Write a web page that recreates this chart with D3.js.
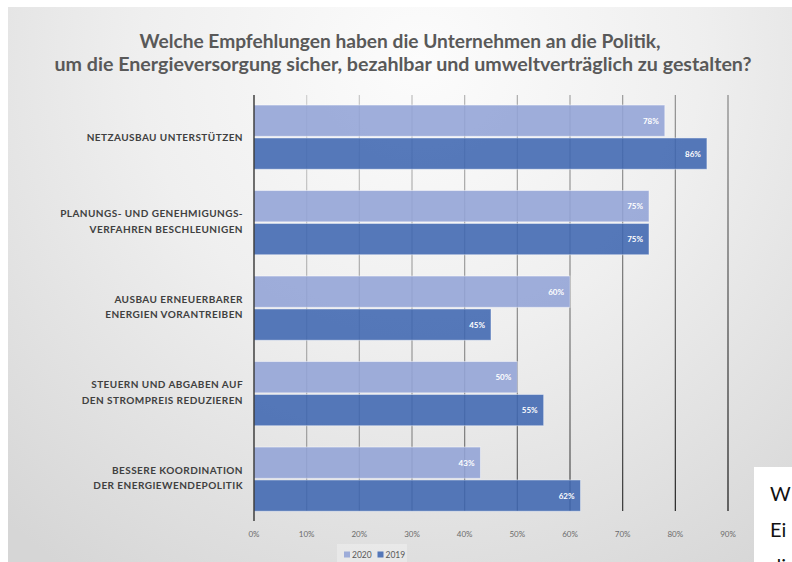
<!DOCTYPE html>
<html>
<head>
<meta charset="utf-8">
<script src="https://cdn.jsdelivr.net/npm/d3@7"></script>
<style>
  html, body { margin: 0; padding: 0; background: #fff; }
  svg { display: block; font-family: Lato, "Open Sans", sans-serif; }
</style>
</head>
<body>
<div id="chart"></div>
<script>
// Chart data
const titleLines = [
  "Welche Empfehlungen haben die Unternehmen an die Politik,",
  "um die Energieversorgung sicher, bezahlbar und umweltverträglich zu gestalten?"
];
const titleWidths = [521, 697];
const categories = [
  ["NETZAUSBAU UNTERSTÜTZEN"],
  ["PLANUNGS- UND GENEHMIGUNGS-", "VERFAHREN BESCHLEUNIGEN"],
  ["AUSBAU ERNEUERBARER", "ENERGIEN VORANTREIBEN"],
  ["STEUERN UND ABGABEN AUF", "DEN STROMPREIS REDUZIEREN"],
  ["BESSERE KOORDINATION", "DER ENERGIEWENDEPOLITIK"]
];
const seriesNames = ["2020", "2019"];
const values2020 = [0.78, 0.75, 0.60, 0.50, 0.43];
const values2019 = [0.86, 0.75, 0.45, 0.55, 0.62];
const xTicks = [0, 0.1, 0.2, 0.3, 0.4, 0.5, 0.6, 0.7, 0.8, 0.9];
const sideNote = ["W", "Ei", "di"];

const W = 792, H = 562;
const colors = { "2020": "#92a3d6", "2019": "#3f67b1" };

const svg = d3.select("#chart").append("svg")
  .attr("width", W).attr("height", H);

const defs = svg.append("defs");

// soft grey backdrop, lighter near the title
const bg = defs.append("radialGradient")
  .attr("id", "bg")
  .attr("gradientUnits", "userSpaceOnUse")
  .attr("cx", 420).attr("cy", 60).attr("r", 620);
bg.append("stop").attr("offset", "0%").attr("stop-color", "#fcfcfc");
bg.append("stop").attr("offset", "45%").attr("stop-color", "#efefef");
bg.append("stop").attr("offset", "100%").attr("stop-color", "#d6d6d6");

// grid lines get darker to the right
const gridGrad = defs.append("linearGradient")
  .attr("id", "gridGrad")
  .attr("gradientUnits", "userSpaceOnUse")
  .attr("x1", 254).attr("y1", 95).attr("x2", 728).attr("y2", 511);
gridGrad.append("stop").attr("offset", "0%").attr("stop-color", "#d8d8d8");
gridGrad.append("stop").attr("offset", "55%").attr("stop-color", "#8a8a8a");
gridGrad.append("stop").attr("offset", "100%").attr("stop-color", "#111");

svg.append("rect").attr("width", W).attr("height", H).attr("fill", "#fff");
svg.append("rect")
  .attr("x", 8).attr("y", 7)
  .attr("width", W - 8).attr("height", H - 7)
  .attr("fill", "url(#bg)");

// title
svg.append("g").selectAll("text")
  .data(titleLines)
  .join("text")
  .attr("x", (d, i) => i === 0 ? 400 : 403)
  .attr("y", (d, i) => 48 + i * 23)
  .attr("text-anchor", "middle")
  .attr("font-size", 18.5)
  .attr("font-weight", 700)
  .attr("fill", "#595959")
  .attr("textLength", (d, i) => titleWidths[i])
  .attr("lengthAdjust", "spacingAndGlyphs")
  .text(d => d);

// scales
const x = d3.scaleLinear().domain([0, 0.9]).range([254, 728]);
const y = d3.scaleBand().domain(d3.range(categories.length)).range([94.25, 521.75]);
const ySub = d3.scaleBand().domain(seriesNames).range([10.8, 75]).paddingInner(0.05);

// grid lines
svg.append("g").selectAll("line")
  .data(xTicks.slice(1))
  .join("line")
  .attr("x1", d => x(d)).attr("x2", d => x(d))
  .attr("y1", 95).attr("y2", 511)
  .attr("stroke", "url(#gridGrad)")
  .attr("stroke-width", 1.2);

// bars
const rows = categories.map((c, i) => ({
  i,
  bars: [
    { key: "2020", v: values2020[i] },
    { key: "2019", v: values2019[i] }
  ]
}));

const groups = svg.append("g").selectAll("g")
  .data(rows)
  .join("g")
  .attr("transform", d => `translate(0,${y(d.i)})`);

groups.selectAll("rect")
  .data(d => d.bars)
  .join("rect")
  .attr("x", x(0))
  .attr("y", d => ySub(d.key))
  .attr("width", d => x(d.v) - x(0))
  .attr("height", ySub.bandwidth())
  .attr("fill", d => colors[d.key])
  .attr("fill-opacity", 0.88)
  .attr("stroke", "#ffffff")
  .attr("stroke-opacity", 0.45)
  .attr("stroke-width", 1);

groups.selectAll("text.val")
  .data(d => d.bars)
  .join("text")
  .attr("class", "val")
  .attr("x", d => x(d.v) - 6)
  .attr("y", d => ySub(d.key) + ySub.bandwidth() / 2 + 3)
  .attr("text-anchor", "end")
  .attr("font-size", 8)
  .attr("font-weight", 700)
  .attr("fill", "#ffffff")
  .text(d => d3.format(".0%")(d.v));

// axis line at 0%
svg.append("line")
  .attr("x1", x(0)).attr("x2", x(0))
  .attr("y1", 95).attr("y2", 521)
  .attr("stroke", "#262626")
  .attr("stroke-width", 1.3);

// category labels
const labels = svg.append("g").selectAll("text")
  .data(categories)
  .join("text")
  .attr("text-anchor", "end")
  .attr("font-size", 10)
  .attr("font-weight", 700)
  .attr("fill", "#404040")
  .attr("letter-spacing", 0.45);

labels.each(function(lines, i) {
  const cy = y(i) + y.bandwidth() / 2;
  const start = lines.length === 1 ? cy + 3.5 : cy - 5.5;
  d3.select(this).selectAll("tspan")
    .data(lines)
    .join("tspan")
    .attr("x", 243)
    .attr("y", (d, j) => start + j * 15.5)
    .text(d => d);
});

// x tick labels
svg.append("g").selectAll("text")
  .data(xTicks)
  .join("text")
  .attr("x", d => x(d))
  .attr("y", 537)
  .attr("text-anchor", "middle")
  .attr("font-size", 8)
  .attr("fill", "#6b6b6b")
  .text(d => d3.format(".0%")(d));

// legend
const legend = svg.append("g");
legend.append("rect")
  .attr("x", 337).attr("y", 544)
  .attr("width", 70).attr("height", 18)
  .attr("fill", "#ffffff").attr("fill-opacity", 0.3);
const legendItems = legend.selectAll("g")
  .data(seriesNames)
  .join("g")
  .attr("transform", (d, i) => `translate(${344 + i * 33.5},0)`);
legendItems.append("rect")
  .attr("y", 551.5).attr("width", 6).attr("height", 6)
  .attr("fill", d => colors[d]).attr("fill-opacity", 0.88);
legendItems.append("text")
  .attr("x", 8).attr("y", 558)
  .attr("font-size", 8.5)
  .attr("fill", "#595959")
  .text(d => d);

// white note box in the corner
svg.append("rect")
  .attr("x", 754).attr("y", 467)
  .attr("width", 60).attr("height", 120)
  .attr("fill", "#ffffff");
svg.append("g").selectAll("text")
  .data(sideNote)
  .join("text")
  .attr("x", 770)
  .attr("y", (d, i) => 501 + i * 36)
  .attr("font-size", 20)
  .attr("font-family", "Lato, sans-serif")
  .attr("fill", "#111")
  .text(d => d);
</script>
</body>
</html>
